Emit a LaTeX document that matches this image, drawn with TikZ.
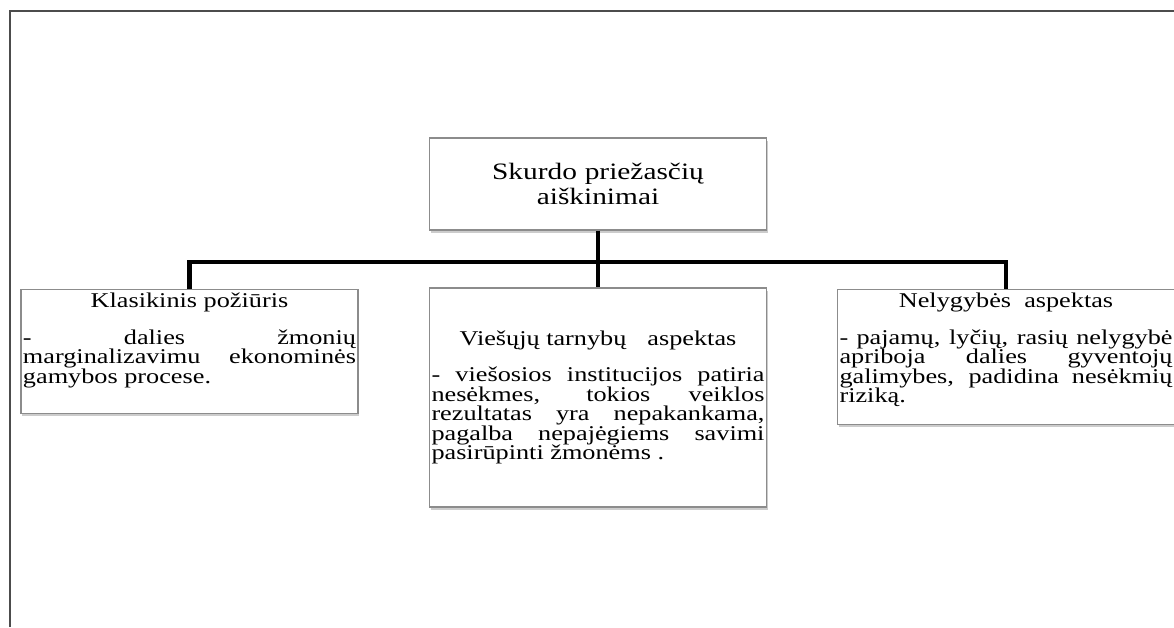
\documentclass[tikz,border=0pt]{standalone}
\usepackage{fontspec}
\setmainfont{Liberation Serif}[FakeStretch=1.25]
\usetikzlibrary{shadows}

\hyphenpenalty=10000
\tolerance=10000
\lineskiplimit=-50pt

\tikzset{
  laukas/.style={draw=black!45, line width=1.1pt, fill=white,
    drop shadow={shadow xshift=1pt,shadow yshift=-2.5pt,opacity=.4},
    inner xsep=2pt, inner ysep=3.5pt, text width=333pt, align=justify,
    font=\fontsize{21}{19.5}\selectfont},
  pavadinimas/.style={laukas, align=center, minimum height=92pt,
    font=\fontsize{23.5}{25}\selectfont},
  jungtis/.style={line width=4.5pt, line join=miter}
}

\begin{document}
\begin{tikzpicture}[x=1pt,y=-1pt]
\useasboundingbox[fill=white] (0,0) rectangle (1174,627);
% remelis
\draw[black!70, line width=2pt] (10,627) -- (10,11) -- (1174,11);

\node[pavadinimas] (pagr) at (598,184) {Skurdo priežasčių\\aiškinimai};

\node[laukas, anchor=north] (klas) at (189.5,289) {\hfill Klasikinis požiūris\hfill\null\par\vspace{17pt}- dalies žmonių\linebreak marginalizavimu ekonominės gamybos procese.\par\vspace{7.5pt}\mbox{}};
\node[laukas, minimum height=219pt] (vies) at (598,397.5) {\hfill Viešųjų tarnybų\quad aspektas\hfill\null\par\vspace{17pt}- viešosios institucijos patiria nesėkmes, tokios veiklos rezultatas yra nepakankama, pagalba nepajėgiems savimi pasirūpinti žmonėms .};
\node[laukas, anchor=north] (nelyg) at (1006,289) {\hfill Nelygybės\ \ aspektas\hfill\null\par\vspace{17pt}- pajamų, lyčių, rasių nelygybė apriboja dalies gyventojų galimybes, padidina nesėkmių riziką.\par\vspace{-1pt}\mbox{}};

% jungtys
\coordinate (sankryza) at (598,262);
\draw[jungtis] (pagr.south) -- (vies.north);
\draw[jungtis] (klas.north) |- (sankryza) -| (nelyg.north);
\end{tikzpicture}
\end{document}
